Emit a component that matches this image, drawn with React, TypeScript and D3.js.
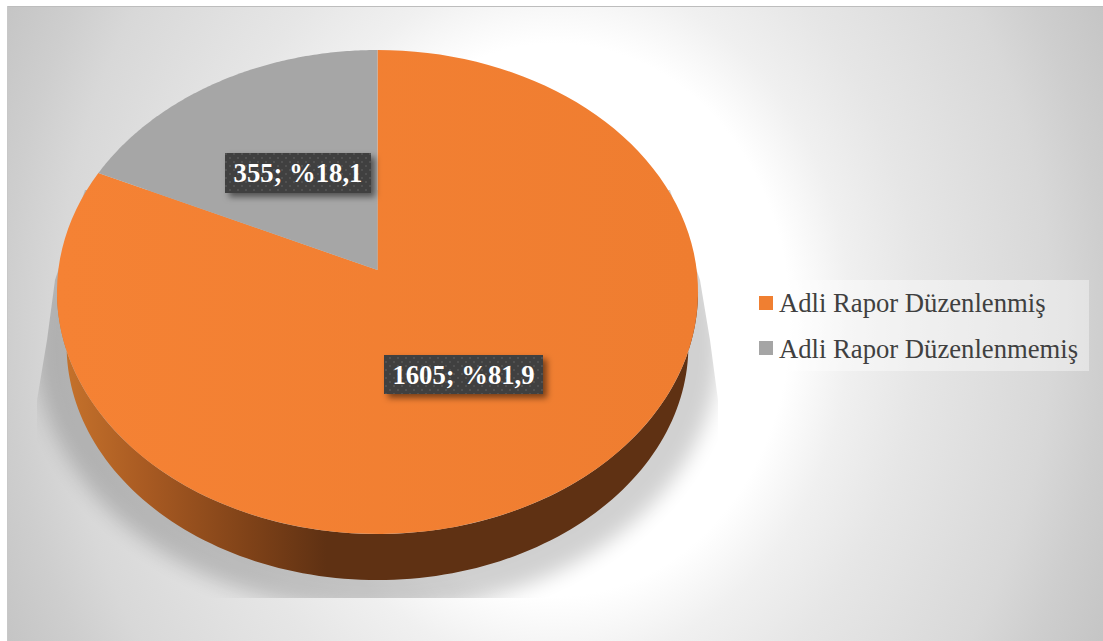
import React from "react";
import * as d3 from "d3";

const categories = ["Adli Rapor Düzenlenmiş", "Adli Rapor Düzenlenmemiş"];
const counts = [1605, 355];
const percents = ["81,9", "18,1"];
const colors = ["#f07f31", "#a5a5a5"];
const faceFills = ["url(#face)", "#a6a6a6"];

const W = 1103, H = 641;
const cx = 377.5, apexY = 270, k = 0.0909, A = 319.2, B = 240;
const rimScale = 0.97, rimDrop = 54;

const project = (t: number, s = 1, dy = 0): [number, number] => {
  const u = Math.sin(t), v = Math.cos(t), w = 1 + k * v;
  return [cx + (s * A * u) / w, apexY + dy - (s * B * v) / w];
};
const line = d3.line();
const pie = d3.pie<number>().sort(null).value((d) => d);
const arcs = pie(counts);

const sample = (a: number, b: number, s = 1, dy = 0) => d3.range(0, 121).map((i) => project(a + ((b - a) * i) / 120, s, dy));
const slicePath = (a: number, b: number) => line([[cx, apexY], ...sample(a, b)]) + "Z";

const tExtreme = Math.acos(-k);
const wallPath =
  line([...sample(tExtreme, 2 * Math.PI - tExtreme), ...sample(2 * Math.PI - tExtreme, tExtreme, rimScale, rimDrop)]) + "Z";
const fullPath = (s: number, dy: number) => line(sample(0, 2 * Math.PI, s, dy)) + "Z";

const boxes = [
  { x: 384, y: 355, w: 159, h: 39 },
  { x: 225, y: 153, w: 146, h: 40 },
];

export default function App() {
  return (
    <svg width={W} height={H} viewBox={`0 0 ${W} ${H}`} style={{ position: "absolute", left: 0, top: 0, display: "block" }}>
      <defs>
        <radialGradient id="bg" gradientUnits="userSpaceOnUse" cx={0} cy={0} r={1} gradientTransform="translate(555 320) scale(610 718)">
          <stop offset="0.385" stopColor="#ffffff" />
          <stop offset="0.484" stopColor="#f0f0f0" />
          <stop offset="0.597" stopColor="#e6e6e6" />
          <stop offset="0.813" stopColor="#d8d8d8" />
          <stop offset="0.9" stopColor="#cecece" />
          <stop offset="1" stopColor="#c5c5c5" />
        </radialGradient>
        <linearGradient id="face" gradientUnits="userSpaceOnUse" x1={57} x2={698} y1={0} y2={0}>
          <stop offset="0" stopColor="#f58234" />
          <stop offset="1" stopColor="#ef7d30" />
        </linearGradient>
        <linearGradient id="wall" gradientUnits="userSpaceOnUse" x1={57} x2={698} y1={0} y2={0}>
          <stop offset="0" stopColor="#c8742c" />
          <stop offset="0.14" stopColor="#a85a22" />
          <stop offset="0.3" stopColor="#7f4218" />
          <stop offset="0.42" stopColor="#5f3113" />
          <stop offset="1" stopColor="#5f3113" />
        </linearGradient>
        <pattern id="dots" patternUnits="userSpaceOnUse" width={8} height={8}>
          <rect width={8} height={8} fill="#404040" />
          <rect x={1} y={1} width={2} height={2} fill="#515151" />
          <rect x={5} y={5} width={2} height={2} fill="#515151" />
        </pattern>
        <filter id="blur" x="-20%" y="-20%" width="140%" height="140%">
          <feGaussianBlur stdDeviation={10} />
        </filter>
        <filter id="lblShadow" x="-20%" y="-30%" width="140%" height="170%">
          <feDropShadow dx={4} dy={4} stdDeviation={3} floodColor="#000" floodOpacity={0.5} />
        </filter>
        <clipPath id="shadowClip">
          <polygon points="85,190 55,280 47,340 37,400 37,598 718,598 718,400 710,340 700,280 670,190" />
        </clipPath>
      </defs>
      <rect x={7} y={6} width={W - 7} height={H - 6} fill="url(#bg)" />
      <line x1={7} x2={W} y1={6.5} y2={6.5} stroke="#bdbdbd" />
      <line x1={7.5} x2={7.5} y1={6} y2={H} stroke="#c8c8c8" />
      <g clipPath="url(#shadowClip)">
        <g filter="url(#blur)" opacity={0.18}>
          <path d={fullPath(rimScale, rimDrop)} fill="#000" stroke="#000" strokeWidth={62} />
          <path d={fullPath(1, 0)} fill="#000" stroke="#000" strokeWidth={30} />
        </g>
      </g>
      <path d={wallPath} fill="url(#wall)" />
      {arcs.map((a, i) => (
        <path key={i} d={slicePath(a.startAngle, a.endAngle)} fill={faceFills[i]} />
      ))}
      {arcs.map((a, i) => {
        const b = boxes[i];
        return (
          <g key={i}>
            <rect x={b.x} y={b.y} width={b.w} height={b.h} fill="url(#dots)" filter="url(#lblShadow)" />
            <text x={b.x + b.w / 2} y={b.y + 29} textAnchor="middle" fontFamily="'Liberation Serif'" fontWeight="bold" fontSize={26.67} fill="#fff">
              {`${counts[i]}; %${percents[i]}`}
            </text>
          </g>
        );
      })}
      <rect x={747} y={280} width={342} height={91} fill="#ffffff" opacity={0.4} />
      {categories.map((c, i) => (
        <g key={c}>
          <rect x={759} y={296 + i * 45} width={14} height={14} fill={colors[i]} />
          <text x={779} y={312 + i * 46} fontFamily="'Liberation Serif'" fontSize={26.67} fill="#404040">{c}</text>
        </g>
      ))}
    </svg>
  );
}
